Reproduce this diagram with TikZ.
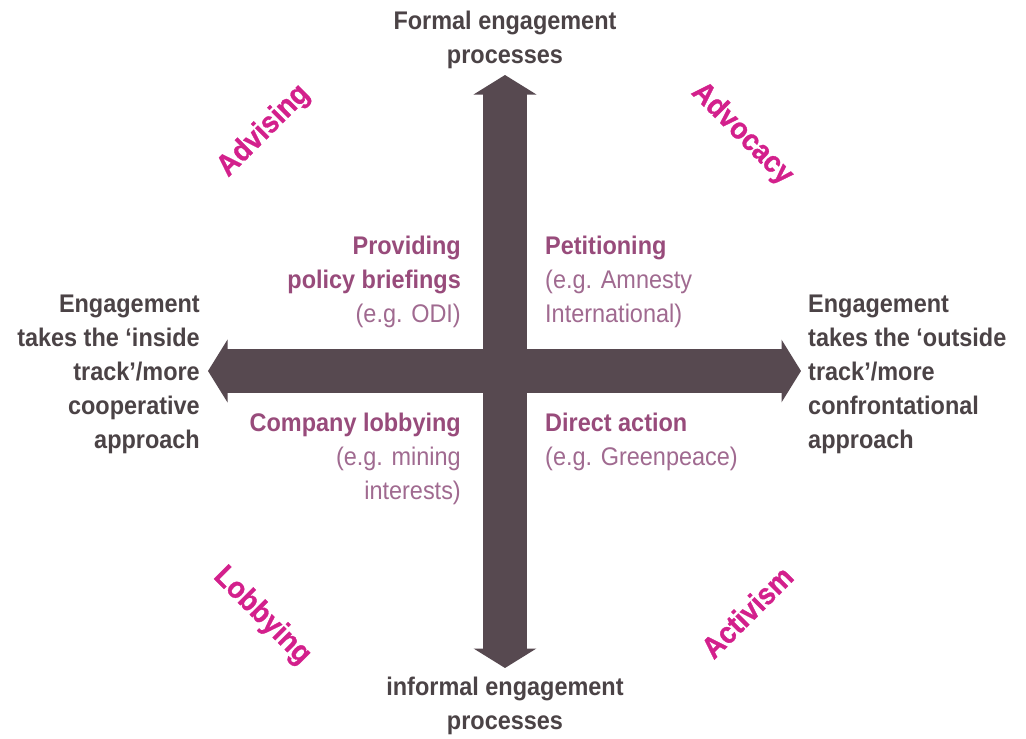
\documentclass[tikz,border=0pt]{standalone}
\usepackage{fontspec}
\usetikzlibrary{arrows.meta}
\newfontfamily\narrowfont{Liberation Sans}[FakeStretch=0.92]
\newfontfamily\cornerfont{Liberation Sans Bold}[FakeStretch=0.92, FakeBold=1]
\definecolor{barcol}{HTML}{574950}
\definecolor{axiscol}{HTML}{4B4346}
\definecolor{quadcol}{HTML}{984B7B}
\definecolor{quadlight}{HTML}{A06A90}
\definecolor{magcol}{HTML}{D3208C}
\tikzset{
  bar/.style={draw=barcol, line width=44.5pt, {Triangle[width=62pt,length=19.5pt]}-{Triangle[width=62pt,length=19.5pt]}},
  axislabel/.style={inner sep=0pt, text=axiscol, font=\narrowfont\bfseries\fontsize{25.5}{33.8}\selectfont},
  quadlabel/.style={inner sep=0pt, text=quadcol, font=\narrowfont\fontsize{25.5}{33.8}\selectfont},
  corner/.style={inner sep=0pt, text=magcol, font=\cornerfont\fontsize{30}{34}\selectfont}
}
\newcommand{\light}[1]{{\mdseries\color{quadlight}#1}}
\begin{document}
\begin{tikzpicture}[x=1pt,y=-1pt]
\useasboundingbox[fill=white] (0,0) rectangle (1026,739);
% arrow ends
\coordinate (top) at (505,75);
\coordinate (bottom) at (505,668);
\coordinate (left) at (208,371);
\coordinate (right) at (801,371);
\draw[bar] (left) -- (right);
\draw[bar] (bottom) -- (top);
% axis labels (anchor = baseline of last line)
\node[axislabel, align=center, anchor=base] (formal) at (505,63) {Formal engagement\\processes};
\node[axislabel, align=center, anchor=base] (informal) at (505,729) {informal engagement\\processes};
\node[axislabel, align=right, anchor=base east] (inside) at (200,448) {Engagement\\takes the ‘inside\\track’/more\\cooperative\\approach};
\node[axislabel, align=left, anchor=base west] (outside) at (808,448) {Engagement\\takes the ‘outside\\track’/more\\confrontational\\approach};
% quadrant labels
\node[quadlabel, align=right, anchor=base east] (briefings) at (461,322) {\bfseries Providing\\\bfseries policy briefings\\\light{(e.g. ODI)}};
\node[quadlabel, align=left, anchor=base west] (petition) at (545,322) {\bfseries Petitioning\\\light{(e.g. Amnesty}\\\light{International)}};
\node[quadlabel, align=right, anchor=base east] (company) at (461,499) {\bfseries Company lobbying\\\light{(e.g. mining}\\\light{interests)}};
\node[quadlabel, align=left, anchor=base west] (direct) at (545,465) {\bfseries Direct action\\\light{(e.g. Greenpeace)}};
% corner labels
\node[corner, rotate=45] (advising) at (264,131) {Advising};
\node[corner, rotate=-45] (advocacy) at (742,134) {Advocacy};
\node[corner, rotate=-45] (lobbying) at (262,616) {Lobbying};
\node[corner, rotate=45] (activism) at (747,612) {Activism};
\end{tikzpicture}
\end{document}
